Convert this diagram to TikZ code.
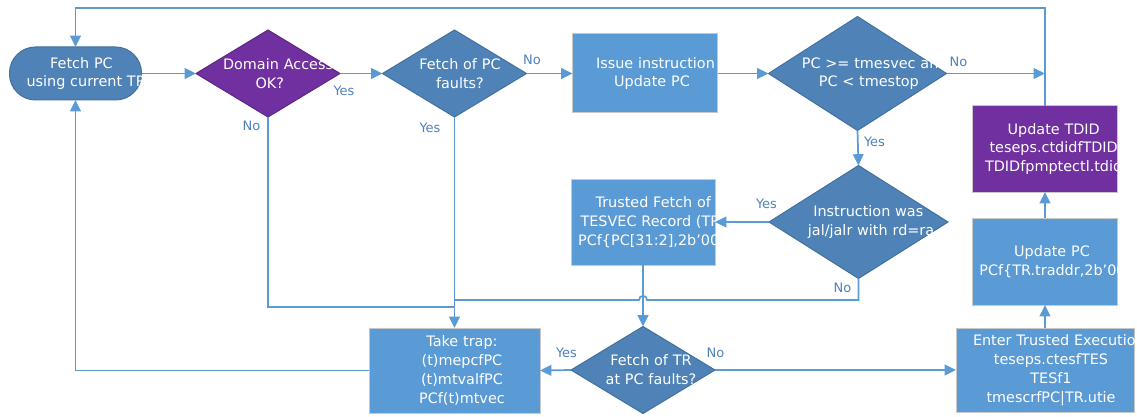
\documentclass[tikz,border=0pt]{standalone}
\usepackage{fontspec}
\setmainfont{DejaVu Sans}
\usetikzlibrary{shapes.geometric,arrows.meta}

\definecolor{wireblue}{HTML}{5B9BD5}
\definecolor{boxblue}{HTML}{5B9BD5}
\definecolor{decblue}{HTML}{4F83B8}
\definecolor{decedge}{HTML}{41719C}
\definecolor{tepurple}{HTML}{7030A0}
\definecolor{purpleedge}{HTML}{5E2686}
\definecolor{boxedge}{HTML}{C8C8C8}
\definecolor{tagblue}{HTML}{4F81BD}

\begin{document}
\begin{tikzpicture}[x=0.75pt,y=-0.75pt,
  every node/.style={inner sep=0pt, outer sep=0pt},
  % white body text, centred on the shape; text width / xshift per shape
  body/.style n args={3}{label={[text=white,
      font=\fontsize{10.8}{14.2}\selectfont, align=center,
      text width=#1, xshift=#2]center:{#3}}},
  terminal/.style={rectangle, rounded corners=19.5pt, draw=decedge,
      fill=decblue, line width=0.75pt},
  decision/.style={diamond, draw=decedge, fill=decblue, line width=0.75pt},
  purpledecision/.style={diamond, draw=purpleedge, fill=tepurple, line width=0.75pt},
  action/.style={rectangle, draw=boxedge, fill=boxblue, line width=0.75pt},
  purpleaction/.style={rectangle, draw=boxedge, fill=tepurple, line width=0.75pt},
  wire/.style={draw=wireblue, line width=1.3pt},
  flow/.style={wire, -{Triangle[length=8.5pt,width=8pt]}},
  tag/.style={text=tagblue, font=\fontsize{9.75}{11}\selectfont}
]
\useasboundingbox (0,0) rectangle (1137,417);

% ---- shapes ----
\node[terminal, minimum width=99pt, minimum height=39.75pt,
  body={82.5pt}{4.5pt}{\mbox{Fetch PC}\\\mbox{using current TR}}] (fetch) at (75.5,73.5) {};
\node[purpledecision, minimum width=108pt, minimum height=65.25pt,
  body={70pt}{1.3pt}{\mbox{Domain Access}\\\mbox{OK?}}] (domain) at (268,73.5) {};
\node[decision, minimum width=108pt, minimum height=65.25pt,
  body={75pt}{4.1pt}{\mbox{Fetch of PC}\\\mbox{faults?}}] (faults) at (454.5,73.5) {};
\node[action, minimum width=108.75pt, minimum height=59.25pt,
  body={84pt}{5.25pt}{\mbox{Issue instruction}\\\mbox{Update PC}}] (issue) at (645,73.5) {};
\node[decision, minimum width=133.5pt, minimum height=85.5pt,
  body={100.5pt}{8.5pt}{\mbox{PC >= tmesvec and}\\\mbox{PC < tmestop}}] (range) at (857.5,73.5) {};
\node[purpleaction, minimum width=108.75pt, minimum height=64.5pt,
  body={112.5pt}{6.5pt}{\mbox{Update TDID}\\\mbox{teseps.ctdidfTDID}\\\mbox{TDIDfpmptectl.tdid}}] (tdid) at (1045,149) {};
\node[decision, minimum width=134.25pt, minimum height=84.75pt,
  body={90.5pt}{7.35pt}{\mbox{Instruction was}\\\mbox{jal/jalr with rd=ra}}] (jal) at (858.5,222) {};
\node[action, minimum width=108pt, minimum height=64.5pt,
  body={120pt}{7.7pt}{\mbox{Trusted Fetch of}\\\mbox{TESVEC Record (TR)}\\\mbox{PCf\{PC[31:2],2b’00\}}}] (tfetch) at (643,222) {};
\node[action, minimum width=108.75pt, minimum height=65.25pt,
  body={109pt}{5.25pt}{\mbox{Update PC}\\\mbox{PCf\{TR.traddr,2b’00\}}}] (updpc) at (1045,261.5) {};
\node[action, minimum width=128.25pt, minimum height=63.75pt,
  body={112pt}{5.6pt}{\mbox{Take trap:}\\\mbox{(t)mepcfPC}\\\mbox{(t)mtvalfPC}\\\mbox{PCf(t)mtvec}}] (trap) at (454.5,370.5) {};
\node[decision, minimum width=108pt, minimum height=65.25pt,
  body={82pt}{6pt}{\mbox{Fetch of TR}\\\mbox{at PC faults?}}] (trfault) at (643,370) {};
\node[action, minimum width=133.5pt, minimum height=63pt,
  body={117pt}{4.5pt}{\mbox{Enter Trusted Execution}\\\mbox{teseps.ctesfTES}\\\mbox{TESf1}\\\mbox{tmescrfPC|TR.utie}}] (enter) at (1045,370) {};

% ---- junction points ----
\coordinate (ret) at (75.5,8);
\coordinate (nojoin) at (454.5,300);
\coordinate (domjoin) at (454.5,307);

% ---- connectors ----
\draw[flow] (fetch.east) -- (domain.west);
\draw[flow] (domain.east) -- (faults.west);
\draw[flow] (faults.east) -- (issue.west);
\draw[flow] (issue.east) -- (range.west);
\draw[flow] (range.east) -- (range.east -| tdid.north);
\draw[flow] (tdid.north) |- (ret) -- (fetch.north);
\draw[flow] (range.south) -- (jal.north);
\draw[flow] (jal.west) -- (tfetch.east);
\draw[wire] (jal.south) |- (647,300) .. controls (647,294.5) and (639,294.5) .. (639,300) -- (nojoin);
\draw[wire] (domain.south) |- (domjoin);
\draw[flow] (faults.south) -- (trap.north);
\draw[flow] (tfetch.south) -- (trfault.north);
\draw[flow] (trfault.west) -- (trap.east);
\draw[flow] (trfault.east) -- (enter.west);
\draw[flow] (enter.north) -- (updpc.south);
\draw[flow] (updpc.north) -- (tdid.south);
\draw[flow] (trap.west) -| (fetch.south);

% ---- branch labels ----
\node[tag] (domyes) at (344,91) {Yes};
\node[tag] (domno) at (251.5,126) {No};
\node[tag] (fltno) at (532,60) {No};
\node[tag] (fltyes) at (430,128) {Yes};
\node[tag] (rngno) at (958.5,62) {No};
\node[tag] (rngyes) at (874.5,142) {Yes};
\node[tag] (jalyes) at (766.5,204) {Yes};
\node[tag] (jalno) at (842.5,288) {No};
\node[tag] (tryes) at (566.5,353) {Yes};
\node[tag] (trno) at (715.5,353) {No};
\end{tikzpicture}
\end{document}
